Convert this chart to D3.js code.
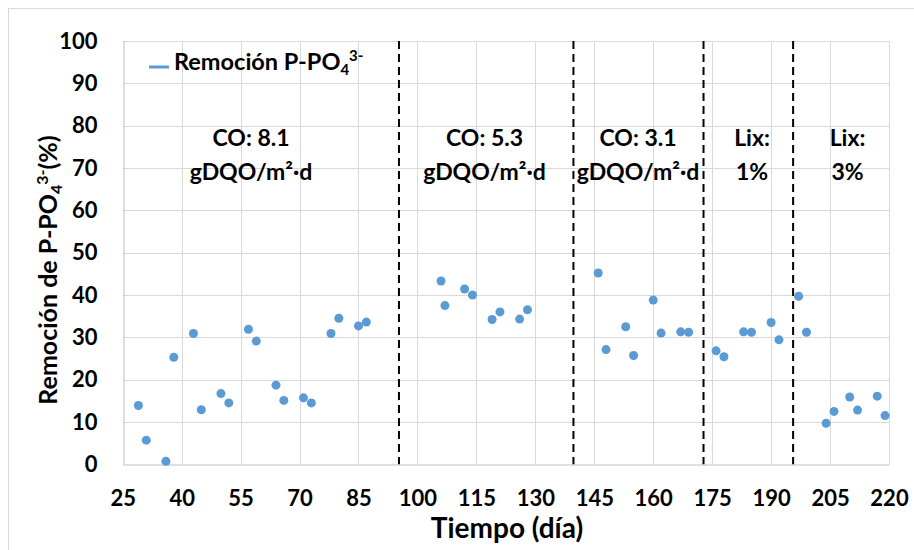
<!DOCTYPE html>
<html>
<head>
<meta charset="utf-8">
<script src="https://cdn.jsdelivr.net/npm/d3@7"></script>
<style>
  body { margin: 0; background: #fff; }
  text { font-family: Lato, "Open Sans", sans-serif; font-weight: bold; fill: #000; }
</style>
</head>
<body>
<svg id="chart" width="914" height="550"></svg>
<script>
// ---- data ----
const days = [29, 31, 36, 38, 43, 45, 50, 52, 57, 59, 64, 66, 71, 73, 78, 80, 85, 87,
              106, 107, 112, 114, 119, 121, 126, 128,
              146, 148, 153, 155, 160, 162, 167, 169,
              176, 178, 183, 185, 190, 192,
              197, 199, 204, 206, 210, 212, 217, 219];
const removal = [13.9, 5.7, 0.7, 25.3, 30.9, 12.9, 16.7, 14.5, 31.9, 29.1, 18.7, 15.1, 15.7, 14.5, 30.9, 34.5, 32.7, 33.6,
                 43.3, 37.5, 41.4, 40.0, 34.2, 36.0, 34.3, 36.5,
                 45.2, 27.1, 32.5, 25.7, 38.8, 31.0, 31.3, 31.2,
                 26.8, 25.4, 31.3, 31.2, 33.5, 29.4,
                 39.7, 31.2, 9.7, 12.5, 15.9, 12.8, 16.1, 11.5];
const phaseBreaks = [95.3, 139.7, 172.8, 195.6];
const phaseLine1 = ["CO: 8.1", "CO: 5.3", "CO: 3.1", "Lix:", "Lix:"];
const phaseLine2 = ["gDQO/m²·d", "gDQO/m²·d", "gDQO/m²·d", "1%", "3%"];
const phaseCenters = [251, 484.5, 638, 752, 847.5];
const xTicks = [25, 40, 55, 70, 85, 100, 115, 130, 145, 160, 175, 190, 205, 220];
const yTicks = [0, 10, 20, 30, 40, 50, 60, 70, 80, 90, 100];

// ---- drawing ----
const svg = d3.select("#chart");
const blue = "#5b9bd5";
const grid = "#d9d9d9";

svg.append("rect").attr("x", 8.5).attr("y", 8.5).attr("width", 920).attr("height", 560)
  .attr("fill", "#fff").attr("stroke", grid);

const x = d3.scaleLinear().domain([25, 220]).range([122.7, 889]);
const y = d3.scaleLinear().domain([0, 100]).range([464.3, 41]);

// grid
svg.append("g").selectAll("line").data(yTicks.slice(1)).join("line")
  .attr("x1", x(25)).attr("x2", x(220))
  .attr("y1", d => Math.round(y(d)) + 0.5).attr("y2", d => Math.round(y(d)) + 0.5)
  .attr("stroke", grid);
svg.append("g").selectAll("line").data(xTicks.slice(1)).join("line")
  .attr("y1", y(0)).attr("y2", y(100))
  .attr("x1", d => Math.round(x(d)) + 0.5).attr("x2", d => Math.round(x(d)) + 0.5)
  .attr("stroke", grid);

// axes
const xAxis = svg.append("g").attr("transform", `translate(0,${Math.round(y(0)) + 0.5})`)
  .call(d3.axisBottom(x).tickValues(xTicks).tickSize(0).tickPadding(26));
xAxis.select(".domain").attr("stroke", "#bfbfbf");
xAxis.selectAll("text").attr("font-size", 22).attr("font-family", "Lato").attr("font-weight", "bold");

const yAxis = svg.append("g").attr("transform", `translate(${Math.round(x(25)) + 0.5},0)`)
  .call(d3.axisLeft(y).tickValues(yTicks).tickSize(0).tickPadding(26));
yAxis.select(".domain").attr("stroke", "#bfbfbf");
yAxis.selectAll("text").attr("font-size", 22).attr("font-family", "Lato").attr("font-weight", "bold");

// phase separators
svg.append("g").selectAll("line").data(phaseBreaks).join("line")
  .attr("x1", d => x(d)).attr("x2", d => x(d))
  .attr("y1", y(100)).attr("y2", y(0))
  .attr("stroke", "#000").attr("stroke-width", 2).attr("stroke-dasharray", "8,5");

// points
svg.append("g").selectAll("circle").data(days.map((d, i) => [d, removal[i]])).join("circle")
  .attr("cx", d => x(d[0])).attr("cy", d => y(d[1])).attr("r", 4.5).attr("fill", blue);

// phase labels
const lab = svg.append("g").attr("font-size", 23).attr("text-anchor", "middle");
lab.selectAll("text.l1").data(phaseLine1).join("text").attr("class", "l1")
  .attr("x", (d, i) => phaseCenters[i]).attr("y", 146).text(d => d);
lab.selectAll("text.l2").data(phaseLine2).join("text").attr("class", "l2")
  .attr("x", (d, i) => phaseCenters[i]).attr("y", 180).text(d => d);

// legend
svg.append("line").attr("x1", 149).attr("x2", 169).attr("y1", 67).attr("y2", 67)
  .attr("stroke", blue).attr("stroke-width", 3);
const lt = svg.append("text").attr("x", 174).attr("y", 70).attr("font-size", 23.5);
lt.append("tspan").text("Remoción P-PO");
lt.append("tspan").attr("font-size", 15).attr("dy", 5).text("4");
lt.append("tspan").attr("font-size", 15).attr("dy", -14).text("3-");

// axis titles
svg.append("text").attr("x", 507).attr("y", 538).attr("text-anchor", "middle")
  .attr("font-size", 28).text("Tiempo (día)");

const yt = svg.append("text").attr("transform", "translate(57,270) rotate(-90)")
  .attr("text-anchor", "middle").attr("font-size", 25);
yt.append("tspan").text("Remoción de P-PO");
yt.append("tspan").attr("font-size", 16).attr("dy", 5).text("4");
yt.append("tspan").attr("font-size", 16).attr("dy", -14).text("3-");
yt.append("tspan").attr("font-size", 25).attr("dy", 9).text("(%)");
</script>
</body>
</html>
